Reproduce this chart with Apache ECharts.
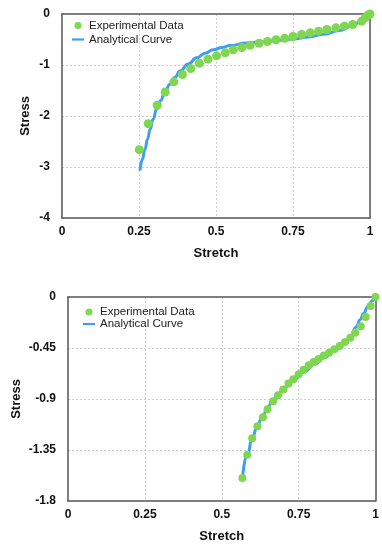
<!DOCTYPE html>
<html>
<head>
<meta charset="utf-8">
<script src="https://cdn.jsdelivr.net/npm/echarts@6/dist/echarts.min.js"></script>
<style>
html,body{margin:0;padding:0;background:#fff;}
#chart{width:382px;height:550px;}
</style>
</head>
<body>
<div id="chart"></div>
<script>
// ---- Data ----
var seriesNames = ['Experimental Data', 'Analytical Curve'];
var xAxisName = 'Stretch';
var yAxisName = 'Stress';

var xTickLabels = ['0', '0.25', '0.5', '0.75', '1'];
var topYTickLabels = ['-4', '-3', '-2', '-1', '0'];
var bottomYTickLabels = ['-1.8', '-1.35', '-0.9', '-0.45', '0'];

// Top panel: experimental points [stretch, stress]
var topExpX = [0.251, 0.280, 0.309, 0.335, 0.363, 0.391, 0.418, 0.446, 0.474, 0.502,
  0.530, 0.556, 0.584, 0.611, 0.640, 0.667, 0.695, 0.723, 0.750, 0.778,
  0.806, 0.833, 0.860, 0.889, 0.917, 0.944, 0.973, 0.984, 0.994, 1.000];
var topExpY = [-2.66, -2.15, -1.79, -1.53, -1.33, -1.186, -1.07, -0.965, -0.886, -0.82,
  -0.761, -0.702, -0.657, -0.612, -0.573, -0.539, -0.506, -0.475, -0.441, -0.402,
  -0.369, -0.337, -0.304, -0.271, -0.239, -0.206, -0.141, -0.075, -0.02, 0.0];

// Top panel: analytical curve
var topCurveX = [0.253, 0.261, 0.269, 0.278, 0.286, 0.296, 0.307, 0.320, 0.334, 0.350,
  0.367, 0.383, 0.410, 0.437, 0.465, 0.491, 0.520, 0.545, 0.600, 0.650,
  0.700, 0.750, 0.800, 0.850, 0.900, 0.940, 0.970, 0.990, 1.000];
var topCurveY = [-3.07, -2.85, -2.66, -2.45, -2.26, -2.06, -1.87, -1.70, -1.53, -1.38,
  -1.24, -1.12, -0.98, -0.86, -0.77, -0.70, -0.655, -0.62, -0.57, -0.545,
  -0.52, -0.49, -0.45, -0.395, -0.325, -0.24, -0.15, -0.06, 0.0];

// Bottom panel: experimental points
var botExpX = [0.567, 0.583, 0.599, 0.616, 0.634, 0.649, 0.667, 0.683, 0.700, 0.717,
  0.733, 0.750, 0.766, 0.783, 0.799, 0.815, 0.832, 0.849, 0.866, 0.884,
  0.901, 0.918, 0.934, 0.952, 0.968, 0.984, 1.000];
var botExpY = [-1.597, -1.391, -1.247, -1.141, -1.062, -0.99, -0.92, -0.868, -0.817, -0.764,
  -0.726, -0.682, -0.641, -0.603, -0.573, -0.547, -0.517, -0.491, -0.462, -0.432,
  -0.397, -0.359, -0.315, -0.259, -0.177, -0.079, 0.0];

// Bottom panel: analytical curve
var botCurveX = [0.567, 0.583, 0.600, 0.616, 0.634, 0.650, 0.667, 0.683, 0.700, 0.733,
  0.766, 0.800, 0.832, 0.866, 0.900, 0.920, 0.937, 0.950, 0.961, 0.975, 0.991, 1.000];
var botCurveY = [-1.60, -1.39, -1.24, -1.13, -1.04, -0.97, -0.905, -0.855, -0.81, -0.735,
  -0.665, -0.595, -0.535, -0.475, -0.405, -0.35, -0.265, -0.20, -0.147, -0.085, -0.03, 0.0];

// ---- Build ----
function zip(xs, ys) { return xs.map(function (x, i) { return [x, ys[i]]; }); }
function labelFrom(list, min, step) {
  return function (v) {
    var i = Math.round((v - min) / step);
    return list[i] !== undefined ? list[i] : String(v);
  };
}

var FONT = '"Liberation Sans", Arial, Helvetica, sans-serif';
var GREEN = '#7ed651';
var BLUE = '#3d9ef5';
var SPLIT = { show: true, showMinLine: false, showMaxLine: false,
  lineStyle: { color: '#cfcfcf', type: [2, 2], width: 1 } };
var FRAME = { show: true, onZero: false, lineStyle: { color: '#555', width: 1.5 } };

function xAxis(gridIndex) {
  return {
    type: 'value', gridIndex: gridIndex, min: 0, max: 1, interval: 0.25,
    name: xAxisName, nameLocation: 'middle', nameGap: 29, nameMoveOverlap: false,
    nameTextStyle: { fontFamily: FONT, fontWeight: 'bold', fontSize: 13, color: '#111' },
    axisLine: FRAME, axisTick: { show: false },
    axisLabel: { fontFamily: FONT, fontWeight: 'bold', fontSize: 12, color: '#111', margin: 8,
      formatter: labelFrom(xTickLabels, 0, 0.25) },
    splitLine: SPLIT
  };
}
function yAxis(gridIndex, min, step, labels, gap) {
  return {
    type: 'value', gridIndex: gridIndex, min: min, max: 0, interval: step,
    name: yAxisName, nameLocation: 'middle', nameGap: gap, nameRotate: 90, nameMoveOverlap: false,
    nameTextStyle: { fontFamily: FONT, fontWeight: 'bold', fontSize: 13, color: '#111' },
    axisLine: FRAME, axisTick: { show: false },
    axisLabel: { fontFamily: FONT, fontWeight: 'bold', fontSize: 12, color: '#111', margin: 12,
      formatter: labelFrom(labels, min, step) },
    splitLine: SPLIT
  };
}
// Frame-only axes for the top and right edges
function frameX(gridIndex) {
  return { type: 'value', gridIndex: gridIndex, position: 'top', min: 0, max: 1,
    axisLine: FRAME, axisTick: { show: false }, axisLabel: { show: false }, splitLine: { show: false } };
}
function frameY(gridIndex) {
  return { type: 'value', gridIndex: gridIndex, position: 'right', min: 0, max: 1,
    axisLine: FRAME, axisTick: { show: false }, axisLabel: { show: false }, splitLine: { show: false } };
}
function legend(left, top, gap, lh) {
  return {
    orient: 'vertical', left: left, top: top, itemGap: gap,
    itemWidth: 12, itemHeight: 7, padding: 0,
    data: [
      { name: seriesNames[0], icon: 'circle' },
      { name: seriesNames[1], icon: 'path://M0,0 L12,0 L12,2.2 L0,2.2 Z', symbolKeepAspect: true }
    ],
    textStyle: { fontFamily: FONT, fontSize: 11.5, color: '#222', lineHeight: lh }
  };
}

var option = {
  backgroundColor: '#fff',
  animation: false,
  grid: [
    { left: 62, top: 14, width: 308, height: 204, outerBoundsMode: 'none' },
    { left: 68, top: 297, width: 307.5, height: 204, outerBoundsMode: 'none' }
  ],
  legend: [legend(72, 19, 1, 13), legend(83, 306, 0, 12)],
  xAxis: [xAxis(0), xAxis(1), frameX(0), frameX(1)],
  yAxis: [yAxis(0, -4, 1, topYTickLabels, 30), yAxis(1, -1.8, 0.45, bottomYTickLabels, 45), frameY(0), frameY(1)],
  series: [
    { name: seriesNames[1], type: 'line', xAxisIndex: 0, yAxisIndex: 0, data: zip(topCurveX, topCurveY),
      showSymbol: false, symbol: 'none', smooth: true, smoothMonotone: 'x',
      lineStyle: { color: BLUE, width: 3 }, itemStyle: { color: BLUE }, z: 2 },
    { name: seriesNames[0], type: 'scatter', xAxisIndex: 0, yAxisIndex: 0, data: zip(topExpX, topExpY),
      symbolSize: 9, itemStyle: { color: GREEN, opacity: 1 }, z: 3 },
    { name: seriesNames[1], type: 'line', xAxisIndex: 1, yAxisIndex: 1, data: zip(botCurveX, botCurveY),
      showSymbol: false, symbol: 'none', smooth: true, smoothMonotone: 'x',
      lineStyle: { color: BLUE, width: 3 }, itemStyle: { color: BLUE }, z: 2 },
    { name: seriesNames[0], type: 'scatter', xAxisIndex: 1, yAxisIndex: 1, data: zip(botExpX, botExpY),
      symbolSize: 8, itemStyle: { color: GREEN, opacity: 1 }, z: 3 }
  ]
};

var chart = echarts.init(document.getElementById('chart'), null, { renderer: 'canvas' });
chart.setOption(option);
</script>
</body>
</html>
